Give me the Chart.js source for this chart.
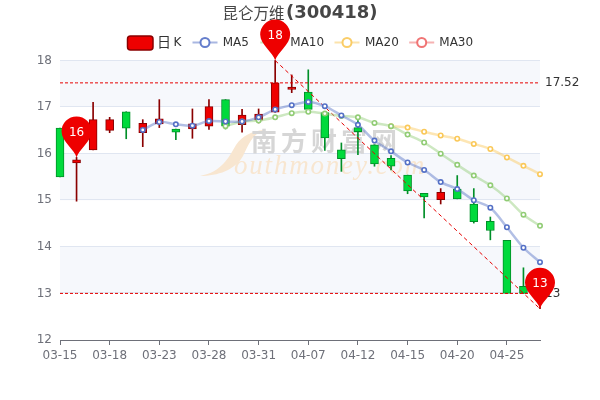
<!DOCTYPE html>
<html><head><meta charset="utf-8">
<style>html,body{margin:0;padding:0;background:#fff}canvas{display:block}</style>
<script src="https://cdn.jsdelivr.net/npm/chart.js@4/dist/chart.umd.min.js"></script>
</head><body><canvas id="c" width="600" height="400"></canvas>
<script>
const dates=['03-15','03-16','03-17','03-18','03-19','03-22','03-23','03-24','03-25','03-28','03-29','03-30','03-31','04-01','04-06','04-07','04-08','04-11','04-12','04-13','04-14','04-15','04-18','04-19','04-20','04-21','04-22','04-25','04-26','04-27'];
const opens =[16.55,15.80,16.08,16.50,16.90,16.45,16.64,16.53,16.53,16.59,17.16,16.62,16.72,16.89,17.38,17.32,16.88,16.08,16.56,16.19,15.90,15.54,15.15,15.01,15.24,14.92,14.55,14.14,13.15,12.90];
const closes=[15.50,15.87,16.73,16.73,16.55,16.65,16.75,16.46,16.64,17.01,16.59,16.83,16.85,17.52,17.43,16.95,16.34,15.89,16.47,15.78,15.73,15.20,15.07,15.17,15.03,14.54,14.35,13.00,13.00,13.05];
const lows  =[15.50,14.98,16.08,16.45,16.32,16.15,16.56,16.30,16.33,16.52,16.53,16.46,16.66,16.89,17.31,16.95,16.07,15.62,15.98,15.73,15.65,15.14,14.62,14.92,15.03,14.51,14.15,13.00,13.00,12.67];
const highs =[16.55,15.92,17.10,16.78,16.90,16.73,17.16,16.53,16.96,17.16,17.16,16.95,16.96,18.00,17.69,17.80,16.88,16.23,16.71,16.19,15.96,15.54,15.15,15.25,15.53,15.25,14.64,14.14,13.55,13.10];
const ma5 =[null,null,null,null,null,16.51,16.68,16.63,16.60,16.70,16.69,16.69,16.78,16.95,17.04,17.11,17.02,16.82,16.62,16.28,16.05,15.81,15.65,15.39,15.24,15.00,14.84,14.42,13.98,13.67];
const ma10=[null,null,null,null,null,null,null,null,null,null,16.59,16.69,16.71,16.78,16.87,16.90,16.86,16.81,16.78,16.66,16.59,16.41,16.24,16.00,15.76,15.53,15.32,15.04,14.69,14.45];
const ma20=[null,null,null,null,null,null,null,null,null,null,null,null,null,null,null,null,null,null,null,null,16.59,16.56,16.47,16.39,16.32,16.21,16.10,15.92,15.74,15.56];
const trend=[null,null,null,null,null,null,null,null,null,null,null,null,null,18.00,null,null,null,null,null,null,null,null,null,null,null,null,null,null,null,12.67];
const maxLine=dates.map(()=>17.52);
const minLine=dates.map(()=>13);
const pinIndex=[1,13,29];
const pinValue=[15.92,18.00,12.67];
const pinLabel=['16','18','13'];
const lineLabels=['17.52','13'];
const lineValues=[17.52,13];
const legendNames=['MA5','MA10','MA20','MA30'];
const UP='#ee0000',UPB='#8a0000',DN='#00da3c',DNB='#008f28';
const BLUE='#5470c6',GREEN='#91cc75',YEL='#fac858',RED='#ee6666';
const isUp=i=>closes[i]>=opens[i];
const alpha=(h,a)=>{const n=parseInt(h.slice(1),16);return `rgba(${n>>16},${(n>>8)&255},${n&255},${a})`};

const bands={id:'bands',beforeDatasetsDraw(ch){
  const {ctx,chartArea:a,scales:{y}}=ch;ctx.save();ctx.fillStyle='#f6f8fc';
  for(const top of [18,16,14]){const y0=y.getPixelForValue(top),y1=y.getPixelForValue(top-1);ctx.fillRect(a.left,y0,a.right-a.left,y1-y0);}
  ctx.strokeStyle='#e0e6f1';ctx.lineWidth=1;
  for(let v=13;v<=18;v++){const p=Math.round(y.getPixelForValue(v))-.5;ctx.beginPath();ctx.moveTo(a.left,p);ctx.lineTo(a.right,p);ctx.stroke();}
  ctx.fillStyle='#f8e6d0';ctx.beginPath();ctx.moveTo(200,176);
  ctx.bezierCurveTo(222,172,229,157,236,145);ctx.bezierCurveTo(242,136,252,131,264,130);
  ctx.bezierCurveTo(250,136,248,147,243,156);ctx.bezierCurveTo(235,170,218,176,200,176);ctx.fill();
  ctx.textBaseline='alphabetic';ctx.textAlign='left';
  ctx.fillStyle='#d6d6d6';ctx.font='bold 26px "Noto Sans CJK SC"';ctx.letterSpacing='4px';ctx.fillText('南方财富网',251,151);
  ctx.fillStyle='#f8e6d0';ctx.font='italic 27px "Liberation Serif"';ctx.letterSpacing='1.8px';ctx.fillText('outhmoney.com',234,174);
  ctx.letterSpacing='0px';ctx.restore();
}};

function icon(ctx,x,col){
  const y=42.5;ctx.strokeStyle=alpha(col,.5);ctx.lineWidth=2;ctx.beginPath();ctx.moveTo(x-12.5,y);ctx.lineTo(x+12.5,y);ctx.stroke();
  ctx.fillStyle='#fff';ctx.strokeStyle=alpha(col,.9);ctx.lineWidth=2;ctx.beginPath();ctx.arc(x,y,4.5,0,Math.PI*2);ctx.fill();ctx.stroke();
}
const overlay={id:'overlay',afterDatasetsDraw(ch){
  const {ctx,scales:{x,y}}=ch;ctx.save();
  ctx.fillStyle='#464646';ctx.textBaseline='middle';ctx.textAlign='left';
  ctx.font='15.5px "Noto Sans CJK SC"';ctx.fillText('昆仑万维',222.5,13);
  ctx.font='bold 18px "DejaVu Sans"';ctx.fillText('(300418)',286,13);
  ctx.fillStyle=UP;ctx.strokeStyle=UPB;ctx.lineWidth=1.5;ctx.beginPath();ctx.roundRect(127.5,36,25.5,14,3);ctx.fill();ctx.stroke();
  ctx.fillStyle='#333';ctx.font='14px "Noto Sans CJK SC"';ctx.fillText('日',157,42);ctx.font='12px "DejaVu Sans"';ctx.fillText('K',173.5,43);
  const cs=[BLUE,GREEN,YEL,RED],ix=[205,272.8,347,421.7],tx=[222.7,290.3,365,439.3];
  legendNames.forEach((n,i)=>{icon(ctx,ix[i],cs[i]);ctx.fillStyle='#333';ctx.font='12px "DejaVu Sans"';ctx.textBaseline='middle';ctx.textAlign='left';ctx.fillText(n,tx[i],43);});
  ctx.fillStyle='#333';ctx.font='12px "DejaVu Sans"';
  lineLabels.forEach((t,i)=>ctx.fillText(t,545,y.getPixelForValue(lineValues[i])));
  pinIndex.forEach((ix2,i)=>{
    const px=x.getPixelForValue(ix2),py=y.getPixelForValue(pinValue[i]),r=15,cy=py-26;
    ctx.fillStyle='#ee0000';ctx.beginPath();ctx.moveTo(px,py);
    ctx.bezierCurveTo(px-2,py-8,px-r,cy+10,px-r,cy);
    ctx.arc(px,cy,r,Math.PI,0);
    ctx.bezierCurveTo(px+r,cy+10,px+2,py-8,px,py);ctx.fill();
    ctx.fillStyle='#fff';ctx.font='12px "DejaVu Sans"';ctx.textAlign='center';ctx.textBaseline='middle';ctx.fillText(pinLabel[i],px,cy+1);
  });
  ctx.restore();
}};

const maStyle=c=>({borderColor:alpha(c,.45),borderWidth:2.5,tension:.3,pointRadius:2.2,pointBorderWidth:1.6,pointBorderColor:c,pointBackgroundColor:'#fff',clip:false});
new Chart(document.getElementById('c'),{
  data:{labels:dates,datasets:[
    {type:'bar',label:'wick',data:dates.map((d,i)=>[lows[i],highs[i]]),barThickness:1,grouped:false,
     backgroundColor:dates.map((d,i)=>isUp(i)?UPB:DNB),borderWidth:0,clip:false,order:6},
    {type:'bar',label:'日K',data:dates.map((d,i)=>[opens[i],closes[i]]),barThickness:8,grouped:false,
     backgroundColor:dates.map((d,i)=>isUp(i)?UP:DN),borderColor:dates.map((d,i)=>isUp(i)?UPB:DNB),borderWidth:1,borderSkipped:false,clip:false,order:5},
    {type:'line',label:'max',data:maxLine,borderColor:'#e60000',borderWidth:1,borderDash:[3,2],pointRadius:0,order:4},
    {type:'line',label:'min',data:minLine,borderColor:'#e60000',borderWidth:1,borderDash:[3,2],pointRadius:0,order:4},
    {type:'line',label:'trend',data:trend,spanGaps:true,borderColor:'#e60000',borderWidth:1,borderDash:[4,3],pointRadius:0,clip:false,order:3},
    {type:'line',label:'MA20',data:ma20,...maStyle(YEL),order:2.2},
    {type:'line',label:'MA10',data:ma10,...maStyle(GREEN),order:2.1},
    {type:'line',label:'MA5',data:ma5,...maStyle(BLUE),order:2}
  ]},
  options:{responsive:false,animation:false,
    layout:{padding:{left:0,right:60,top:60.5,bottom:0}},
    plugins:{legend:{display:false},tooltip:{enabled:false},title:{display:false}},
    scales:{
      x:{type:'category',offset:false,
        afterFit(s){s.height=60},
        grid:{drawOnChartArea:false,drawTicks:true,tickLength:5,offset:false,color:c=>c.index%3===0?'#6e7079':'rgba(0,0,0,0)'},
        border:{color:'#6e7079'},
        ticks:{autoSkip:false,maxRotation:0,color:'#6e7079',font:{family:'"DejaVu Sans"',size:12},padding:4,callback(v,i){return i%3===0?this.getLabelForValue(v):''}}},
      y:{min:12,max:18,
        afterFit(s){s.width=60},
        grid:{display:false,drawTicks:false},border:{display:false},
        ticks:{stepSize:1,color:'#6e7079',font:{family:'"DejaVu Sans"',size:12},padding:8}}
    }
  },
  plugins:[bands,overlay]
});
</script></body></html>
